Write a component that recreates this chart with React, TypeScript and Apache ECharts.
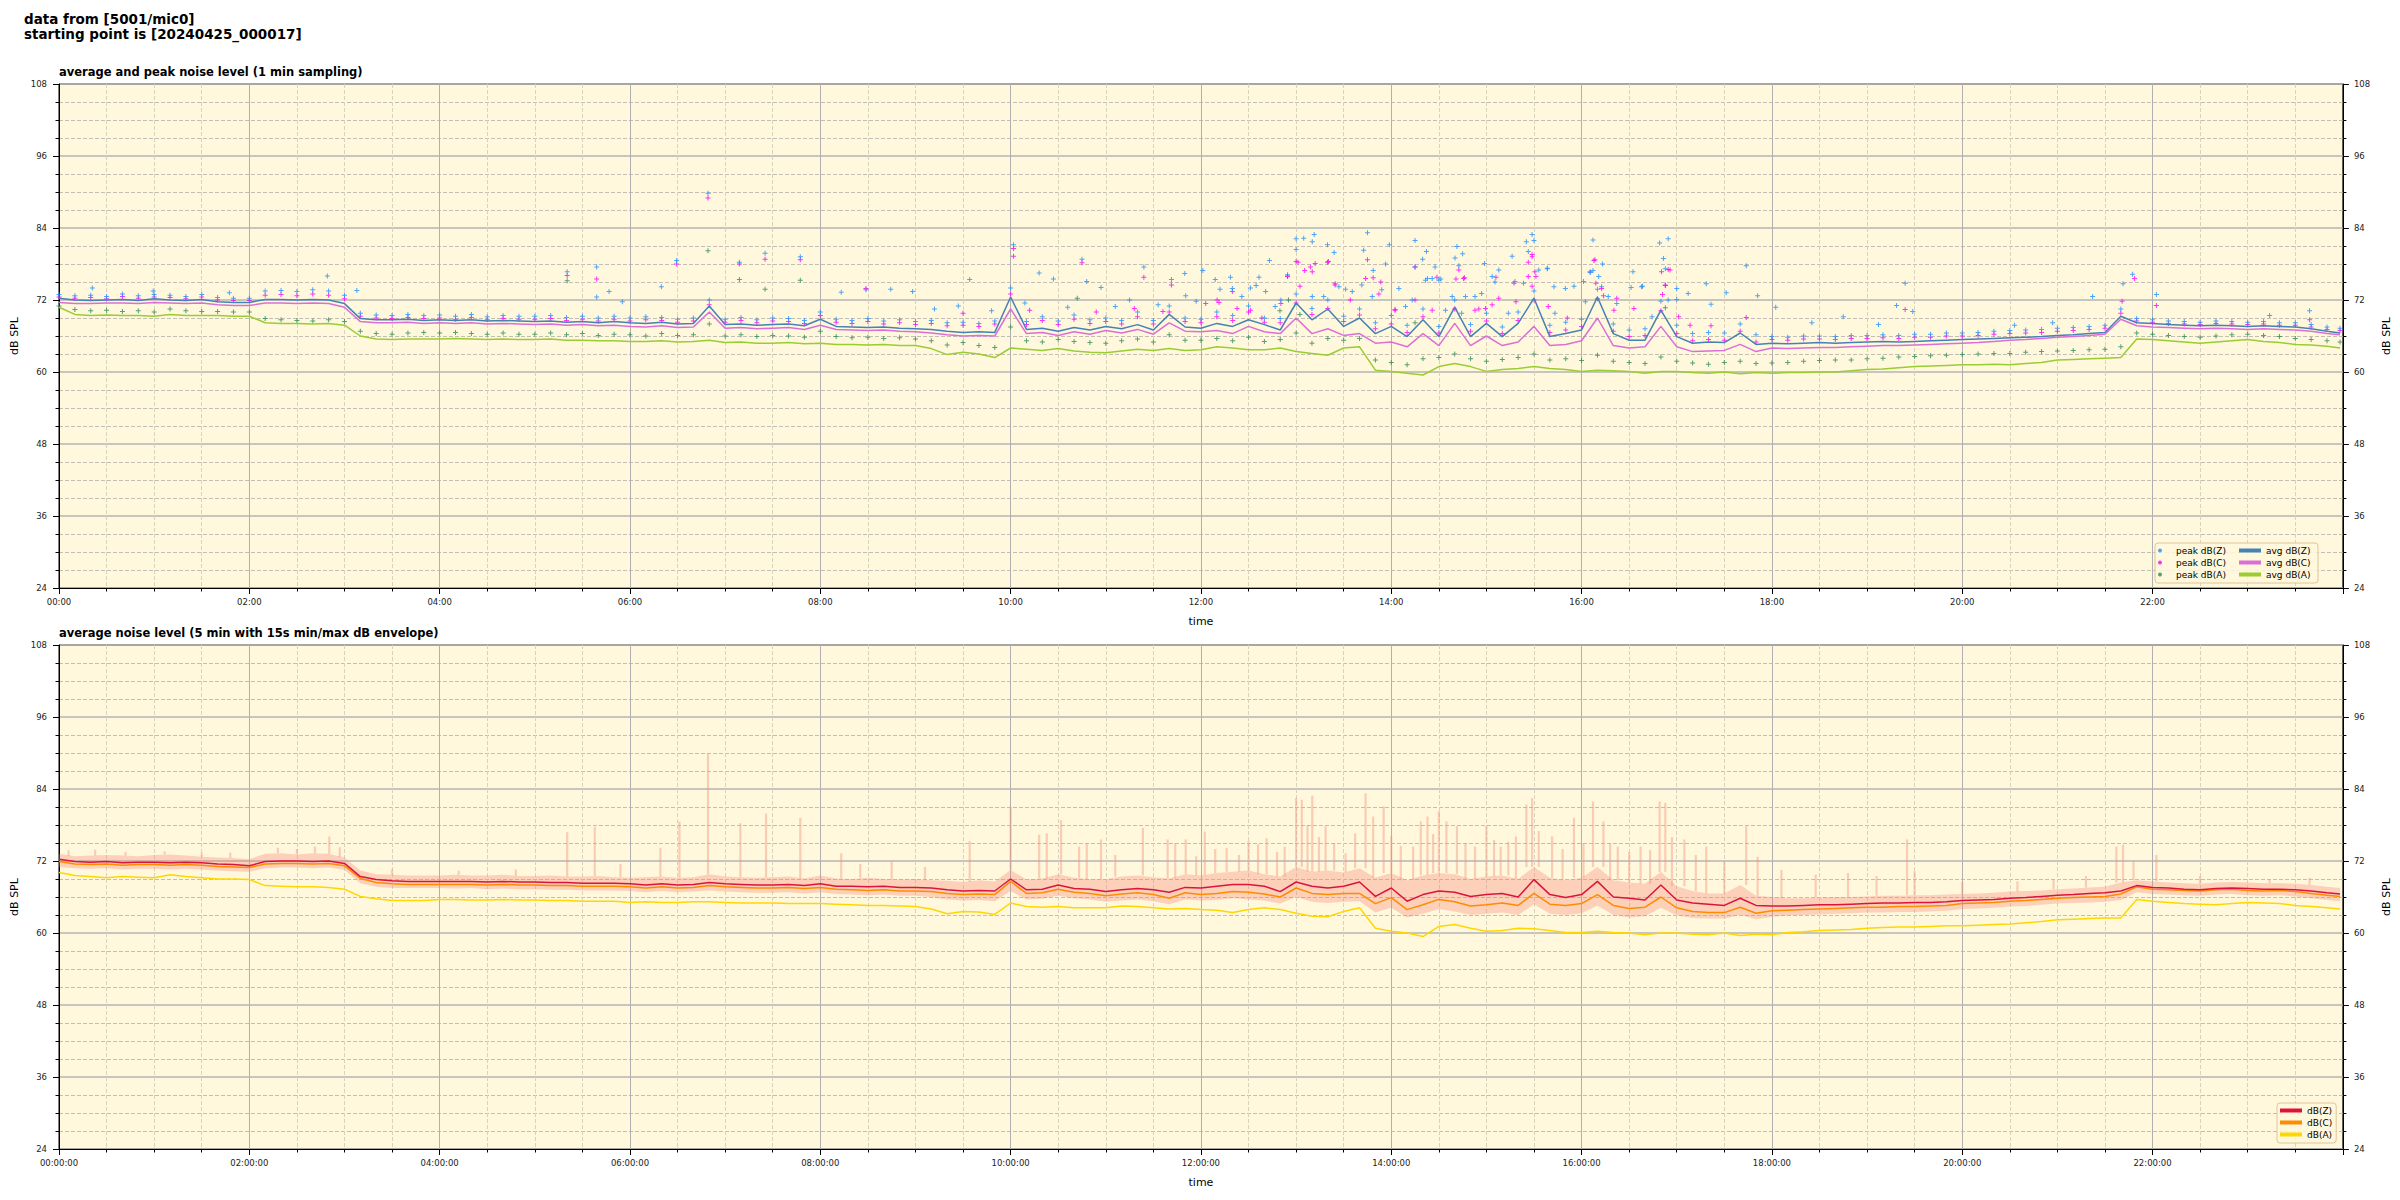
import { useEffect, useRef } from "react";
import * as echarts from "echarts";

// ---------- time base: 10-minute samples over the day (hours) ----------
const N = 145;
const HOURS = Array.from({ length: N }, (_, i) => Math.min(i / 6, 23.97));
const X_TICKS_TOP = (h: number) => `${String(h).padStart(2, "0")}:00`;
const X_TICKS_BOT = (h: number) => `${String(h).padStart(2, "0")}:00:00`;

// ---------- top plot: 1-min averages (read at 10-min steps) ----------
const avgZ = [
  72.3, 72.0, 71.9, 72.0, 72.1, 71.9,
  72.2, 72.0, 71.9, 72.1, 71.7, 71.6,
  71.6, 72.1, 72.1, 72.0, 72.1, 72.0,
  71.4, 68.9, 68.7, 68.7, 68.8, 68.6,
  68.7, 68.6, 68.7, 68.5, 68.6, 68.5,
  68.4, 68.5, 68.3, 68.4, 68.2, 68.4,
  68.2, 68.1, 68.3, 68.0, 68.1, 71.0,
  67.9, 68.0, 67.8, 67.9, 68.0, 67.7,
  68.8, 67.6, 67.5, 67.4, 67.5, 67.3,
  67.2, 67.1, 66.8, 66.6, 66.7, 66.6,
  72.5, 67.1, 67.3, 66.8, 67.4, 67.0,
  67.6, 67.2, 67.9, 67.0, 69.6, 67.5,
  67.3, 68.1, 67.6, 68.7, 67.9, 67.0,
  71.5, 68.7, 70.5, 67.6, 69.0, 66.4,
  67.6, 65.9, 68.7, 65.9, 70.8, 65.9,
  68.1, 65.9, 68.1, 72.3, 65.9, 66.4,
  67.0, 72.5, 66.4, 65.3, 65.3, 70.3,
  65.9, 64.8, 65.0, 64.9, 66.5, 64.6,
  64.8, 64.7, 64.8, 64.9, 64.8, 64.9,
  65.0, 65.1, 65.0, 65.1, 65.2, 65.3,
  65.4, 65.5, 65.6, 65.7, 65.8, 65.9,
  66.1, 66.2, 66.4, 66.6, 69.3, 68.2,
  68.1, 67.9, 67.8, 67.7, 67.8, 67.7,
  67.6, 67.7, 67.6, 67.5, 67.2, 66.8,
  66.5,
];
const avgC = [
  71.6, 71.4, 71.4, 71.5, 71.5, 71.4,
  71.6, 71.5, 71.4, 71.5, 71.2, 71.1,
  71.1, 71.5, 71.5, 71.4, 71.5, 71.4,
  70.8, 68.4, 68.2, 68.2, 68.3, 68.1,
  68.2, 68.1, 68.2, 68.0, 68.1, 68.0,
  67.9, 68.0, 67.8, 67.9, 67.7, 67.8,
  67.6, 67.5, 67.7, 67.4, 67.5, 70.0,
  67.3, 67.4, 67.2, 67.3, 67.4, 67.1,
  67.8, 67.1, 67.0, 66.9, 67.0, 66.8,
  66.7, 66.5, 66.2, 66.0, 66.1, 66.0,
  70.5, 66.4, 66.6, 66.1, 66.7, 66.3,
  66.9, 66.5, 67.1, 66.3, 68.2, 66.8,
  66.7, 66.9, 66.4, 67.6, 66.7, 66.4,
  69.0, 66.4, 67.2, 66.1, 66.4, 64.8,
  65.0, 64.2, 66.4, 64.4, 68.1, 64.4,
  66.0, 64.4, 65.0, 67.6, 64.4, 64.6,
  65.2, 69.0, 64.4, 64.0, 64.2, 67.6,
  64.2, 63.4, 63.5, 63.6, 64.6, 63.4,
  64.0, 63.9, 64.0, 64.1, 64.1, 64.2,
  64.3, 64.4, 64.4, 64.5, 64.6, 64.7,
  64.8, 64.9, 65.1, 65.3, 65.4, 65.6,
  65.8, 65.9, 66.1, 66.3, 68.8, 67.7,
  67.5, 67.4, 67.3, 67.2, 67.3, 67.2,
  67.1, 67.2, 67.1, 67.0, 66.8, 66.4,
  66.2,
];
const avgA = [
  70.8, 69.6, 69.4, 69.5, 69.4, 69.4,
  69.3, 69.6, 69.4, 69.4, 69.4, 69.3,
  69.3, 68.2, 68.1, 68.1, 68.0, 68.1,
  67.8, 66.0, 65.5, 65.4, 65.5, 65.5,
  65.5, 65.6, 65.5, 65.4, 65.5, 65.4,
  65.4, 65.5, 65.3, 65.3, 65.2, 65.2,
  65.1, 65.1, 65.2, 65.0, 65.1, 65.3,
  64.9, 65.0, 64.8, 64.8, 64.9, 64.7,
  64.8, 64.6, 64.6, 64.5, 64.6, 64.4,
  64.4, 63.9, 62.9, 63.3, 63.0, 62.4,
  64.0, 63.8, 63.6, 63.9, 63.5, 63.3,
  63.2, 63.5, 63.8, 63.6, 63.9, 63.6,
  63.7, 64.2, 64.0, 63.7, 63.7, 64.0,
  63.4, 63.1, 62.8, 64.0, 64.2, 60.3,
  60.1, 59.8, 59.5, 60.9, 61.4, 60.9,
  60.1, 60.4, 60.6, 60.9, 60.6, 60.4,
  60.1, 60.3, 60.2, 60.1, 59.8, 60.1,
  60.1, 59.9, 59.8, 60.0, 59.7, 59.9,
  59.8, 59.9, 59.9, 60.0, 60.0, 60.2,
  60.4, 60.5, 60.7, 60.9, 61.0, 61.1,
  61.2, 61.2, 61.3, 61.2, 61.4, 61.6,
  62.0, 62.1, 62.2, 62.3, 62.4, 65.5,
  65.4, 65.2, 65.0, 64.8, 65.0, 65.2,
  65.4, 65.1, 64.9, 64.6, 64.5, 64.3,
  64.0,
];

// ---------- top plot: 1-min peaks (band level at 10-min steps + scattered outliers) ----------
const peakZ = [
  72.9, 72.7, 72.8, 72.6, 73.0, 72.7,
  72.9, 72.8, 72.6, 72.9, 72.4, 72.3,
  72.3, 73.5, 73.6, 73.4, 73.7, 73.5,
  72.8, 69.8, 69.5, 69.4, 69.6, 69.4,
  69.5, 69.3, 69.6, 69.2, 69.4, 69.3,
  69.3, 69.4, 69.1, 69.3, 69.0, 69.3,
  69.0, 69.2, 69.1, 68.8, 69.0, 72.0,
  68.8, 69.1, 68.7, 69.0, 68.9, 68.6,
  70.0, 68.8, 68.6, 68.9, 68.5, 68.7,
  68.4, 68.6, 68.2, 68.3, 68.1, 68.5,
  74.0, 68.4, 69.2, 68.5, 69.5, 68.7,
  69.0, 68.6, 70.0, 68.6, 71.0, 69.0,
  68.8, 70.0, 69.4, 71.0, 69.0, 68.9,
  73.0, 70.6, 72.0, 69.3, 70.5, 68.2,
  69.4, 67.8, 70.5, 67.6, 72.0, 67.9,
  69.8, 67.5, 70.0, 73.5, 67.8, 68.3,
  68.8, 73.8, 68.0, 67.0, 67.2, 71.8,
  67.8, 66.4, 66.6, 66.5, 68.0, 66.2,
  65.9, 65.8, 66.0, 66.0, 65.9, 66.1,
  66.1, 66.2, 66.1, 66.3, 66.3, 66.5,
  66.5, 66.6, 66.8, 66.9, 67.0, 67.1,
  67.3, 67.4, 67.6, 67.8, 70.5, 68.9,
  68.7, 68.5, 68.4, 68.3, 68.5, 68.4,
  68.3, 68.4, 68.2, 68.2, 67.9, 67.5,
  67.3,
];
const peakC = [
  72.5, 72.3, 72.4, 72.2, 72.6, 72.3,
  72.5, 72.4, 72.2, 72.5, 72.0, 71.9,
  71.9, 72.8, 72.9, 72.7, 73.0, 72.8,
  72.2, 69.3, 69.0, 68.9, 69.1, 68.9,
  69.0, 68.8, 69.1, 68.7, 68.9, 68.8,
  68.8, 68.9, 68.6, 68.8, 68.5, 68.8,
  68.5, 68.7, 68.6, 68.3, 68.5, 71.2,
  68.3, 68.6, 68.2, 68.5, 68.4, 68.1,
  69.4, 68.3, 68.1, 68.4, 68.0, 68.2,
  67.9, 68.1, 67.7, 67.8, 67.6, 68.0,
  73.0, 67.9, 68.6, 67.9, 68.8, 68.1,
  68.4, 68.0, 69.2, 68.0, 70.0, 68.4,
  68.2, 69.2, 68.6, 70.0, 68.3, 68.2,
  71.5, 69.6, 70.6, 68.4, 69.5, 67.2,
  68.0, 66.6, 69.2, 66.5, 70.5, 66.8,
  68.5, 66.4, 68.6, 72.0, 66.6, 67.0,
  67.6, 72.2, 66.8, 65.9, 66.1, 70.2,
  66.4, 65.2, 65.4, 65.3, 66.8, 65.0,
  65.4, 65.3, 65.5, 65.5, 65.4, 65.6,
  65.6, 65.7, 65.6, 65.8, 65.8, 66.0,
  66.0, 66.1, 66.3, 66.4, 66.5, 66.6,
  66.8, 66.9, 67.1, 67.3, 69.8, 68.5,
  68.3, 68.1, 68.0, 67.9, 68.1, 68.0,
  67.9, 68.0, 67.8, 67.8, 67.5, 67.1,
  66.9,
];
const peakA = [
  71.0, 70.4, 70.2, 70.3, 70.1, 70.2,
  70.0, 70.5, 70.2, 70.1, 70.1, 70.0,
  70.0, 68.9, 68.7, 68.6, 68.5, 68.7,
  68.4, 66.8, 66.4, 66.3, 66.5, 66.6,
  66.5, 66.6, 66.4, 66.3, 66.5, 66.3,
  66.3, 66.5, 66.2, 66.4, 66.1, 66.3,
  66.2, 66.0, 66.4, 66.1, 66.2, 68.0,
  66.0, 66.2, 65.9, 66.1, 66.0, 65.8,
  66.8, 65.9, 65.7, 65.8, 65.6, 65.7,
  65.5, 65.2, 64.5, 64.9, 64.4, 64.1,
  67.5, 65.2, 65.0, 65.4, 65.1, 64.9,
  64.8, 65.2, 65.5, 65.0, 66.2, 65.3,
  65.3, 65.6, 65.2, 65.8, 65.1, 65.4,
  66.5, 64.8, 65.6, 65.3, 65.6, 62.0,
  61.6, 61.2, 62.2, 62.4, 63.0, 62.2,
  61.8, 62.1, 62.4, 63.0, 62.0, 62.2,
  61.9, 62.8, 61.8, 61.6, 61.4, 62.5,
  61.8, 61.5, 61.3, 61.6, 61.8, 61.4,
  61.5, 61.6, 61.8, 61.9, 62.0, 62.0,
  62.2, 62.3, 62.5, 62.6, 62.7, 62.8,
  62.9, 63.0, 63.1, 63.1, 63.3, 63.4,
  63.5, 63.6, 63.7, 63.8, 64.2, 66.5,
  66.3, 66.1, 65.9, 65.8, 66.0, 66.2,
  66.3, 66.1, 65.9, 65.6, 65.4, 65.2,
  65.0,
];
// [hour, dB]
const peakZOut: [number, number][] = [
  [0.35, 74.0], [0.99, 73.5], [1.79, 73.2], [2.82, 76.0], [3.13, 73.6], [5.34, 76.7], [5.65, 77.5], [5.65, 72.5],
  [5.78, 73.4], [5.92, 71.7], [6.33, 74.2], [6.49, 78.6], [6.82, 89.8], [7.15, 78.3], [7.42, 79.8], [7.79, 79.2],
  [8.22, 73.3], [8.48, 73.7], [8.74, 73.8], [8.97, 73.4], [9.2, 70.5], [9.45, 71.0], [9.57, 75.4], [9.8, 70.2],
  [10.03, 81.2], [10.15, 71.5], [10.3, 76.5], [10.45, 75.5], [10.6, 70.8], [10.75, 78.8], [10.8, 75.1], [10.95, 74.1],
  [11.1, 70.9], [11.25, 72.0], [11.4, 77.5], [11.55, 71.2], [11.69, 75.4], [11.83, 76.4], [11.84, 72.7], [11.95, 71.8],
  [12.02, 76.9], [12.15, 75.4], [12.2, 73.8], [12.31, 75.8], [12.33, 73.9], [12.43, 72.6], [12.52, 74.0], [12.58, 74.4],
  [12.61, 75.8], [12.68, 73.4], [12.72, 78.6], [12.78, 70.9], [12.84, 72.0], [12.91, 76.2], [13.0, 82.2], [13.0, 80.4],
  [13.08, 82.3], [13.17, 81.7], [13.17, 72.6], [13.19, 82.9], [13.29, 72.6], [13.33, 81.2], [13.4, 79.9], [13.45, 74.2],
  [13.52, 73.8], [13.59, 73.4], [13.69, 74.5], [13.71, 80.3], [13.75, 83.2], [13.8, 72.6], [13.81, 76.9], [13.9, 73.7],
  [13.94, 78.0], [13.98, 81.2], [14.08, 73.9], [14.15, 70.9], [14.22, 72.0], [14.25, 81.9], [14.25, 77.5], [14.33, 78.8],
  [14.36, 75.3], [14.37, 80.1], [14.38, 75.6], [14.43, 75.6], [14.46, 77.5], [14.5, 75.3], [14.52, 75.5], [14.57, 70.3],
  [14.64, 72.6], [14.67, 79.0], [14.69, 80.9], [14.71, 77.7], [14.74, 69.8], [14.75, 79.7], [14.78, 72.6], [14.88, 72.6],
  [14.95, 73.1], [14.98, 78.1], [15.06, 75.9], [15.09, 75.0], [15.13, 77.0], [15.23, 69.8], [15.27, 79.3], [15.3, 75.1],
  [15.39, 74.8], [15.42, 81.7], [15.44, 80.1], [15.48, 82.9], [15.5, 81.9], [15.55, 77.0], [15.64, 77.2], [15.64, 77.3],
  [15.71, 74.2], [15.72, 69.8], [15.83, 73.9], [15.92, 74.3], [16.02, 75.1], [16.04, 71.7], [16.09, 76.6], [16.12, 82.0],
  [16.12, 76.9], [16.18, 75.9], [16.21, 74.2], [16.22, 78.0], [16.28, 72.6], [16.37, 71.4], [16.52, 74.1], [16.54, 76.7],
  [16.63, 74.2], [16.64, 74.3], [16.74, 69.2], [16.82, 81.5], [16.86, 78.9], [16.88, 77.2], [16.91, 82.2], [16.91, 72.0],
  [17.0, 72.1], [17.0, 73.9], [17.12, 73.1], [17.31, 74.7], [17.36, 71.3], [17.52, 73.2], [17.73, 77.7], [17.85, 72.7],
  [18.04, 70.8], [18.42, 68.2], [18.75, 69.2], [19.12, 67.9], [19.31, 71.1], [19.4, 74.8], [19.48, 70.1], [20.55, 67.8],
  [20.95, 68.2], [21.37, 72.6], [21.69, 74.7], [21.79, 76.3], [22.04, 72.9], [23.23, 69.4], [23.65, 70.2],
];
const peakCOut: [number, number][] = [
  [5.34, 76.1], [5.65, 75.5], [6.49, 78.0], [6.82, 89.0], [7.15, 78.0], [7.42, 78.8], [7.79, 78.7], [8.48, 73.9],
  [9.5, 69.8], [10.03, 80.6], [10.03, 79.3], [10.2, 70.3], [10.75, 78.2], [10.9, 70.0], [11.3, 70.6], [11.4, 75.8],
  [11.6, 70.1], [11.69, 74.5], [12.05, 71.4], [12.17, 72.0], [12.19, 71.6], [12.33, 73.4], [12.38, 70.6], [12.52, 70.3],
  [12.64, 69.0], [12.84, 71.4], [12.91, 75.9], [12.91, 76.0], [13.0, 78.4], [13.02, 78.3], [13.04, 74.3], [13.09, 76.9],
  [13.15, 77.5], [13.17, 76.7], [13.2, 78.1], [13.33, 78.3], [13.34, 78.4], [13.41, 74.7], [13.41, 74.5], [13.57, 72.0],
  [13.73, 75.6], [13.75, 78.7], [13.81, 75.7], [13.87, 73.0], [13.89, 75.0], [14.04, 70.4], [14.04, 70.3], [14.25, 77.5],
  [14.25, 72.0], [14.43, 70.3], [14.48, 75.8], [14.68, 75.5], [14.71, 77.0], [14.76, 75.6], [14.77, 75.7], [14.88, 70.3],
  [14.92, 70.5], [14.99, 70.6], [15.06, 71.2], [15.1, 75.8], [15.13, 72.3], [15.29, 74.8], [15.31, 71.7], [15.44, 78.3],
  [15.44, 75.9], [15.48, 79.6], [15.48, 74.3], [15.48, 79.2], [15.51, 76.7], [15.52, 75.9], [15.65, 70.9], [15.85, 69.0],
  [16.09, 76.7], [16.13, 78.6], [16.14, 78.7], [16.15, 74.8], [16.21, 73.9], [16.23, 72.7], [16.34, 70.3], [16.37, 72.3],
  [16.55, 70.6], [16.84, 76.7], [16.85, 72.9], [16.88, 74.4], [16.88, 74.5], [16.91, 77.1], [16.93, 77.0], [17.02, 69.2],
  [17.14, 67.8], [17.36, 67.7], [17.73, 69.1], [19.4, 70.4], [21.68, 71.8], [21.81, 75.6], [22.04, 71.1], [23.65, 68.7],
];
const peakAOut: [number, number][] = [
  [5.34, 75.2], [6.82, 80.2], [7.15, 75.4], [7.42, 73.8], [7.79, 75.3], [10.7, 72.3], [12.83, 70.2], [12.92, 72.0],
  [13.04, 69.6], [14.25, 68.2], [16.88, 70.7],
];

// ---------- bottom plot: 5-min averages (read at 10-min steps) ----------
const dbZ = [
  72.3, 71.9, 71.8, 71.9, 71.7, 71.8,
  71.8, 71.7, 71.8, 71.7, 71.5, 71.4,
  71.2, 71.9, 72.0, 72.0, 71.9, 72.0,
  71.6, 69.4, 68.9, 68.7, 68.6, 68.6,
  68.6, 68.6, 68.6, 68.5, 68.6, 68.5,
  68.5, 68.4, 68.4, 68.3, 68.3, 68.3,
  68.2, 68.0, 68.2, 68.0, 68.1, 68.4,
  68.2, 68.1, 68.0, 68.0, 68.1, 67.9,
  68.2, 67.8, 67.8, 67.7, 67.8, 67.6,
  67.6, 67.5, 67.2, 67.0, 67.1, 67.0,
  69.0, 67.2, 67.3, 68.0, 67.4, 67.3,
  66.9, 67.2, 67.4, 67.2, 66.8, 67.6,
  67.5, 67.8, 68.1, 68.1, 67.8, 66.9,
  68.5, 67.8, 67.5, 67.8, 68.5, 66.1,
  67.5, 65.3, 66.4, 67.0, 66.8, 66.1,
  66.4, 66.6, 66.0, 68.9, 66.4, 65.9,
  66.4, 68.6, 66.0, 65.8, 65.5, 68.0,
  65.5, 65.0, 64.8, 64.6, 65.8, 64.6,
  64.5, 64.5, 64.6, 64.7, 64.7, 64.8,
  64.9, 65.0, 65.0, 65.1, 65.1, 65.2,
  65.4, 65.5, 65.6, 65.8, 65.9, 66.1,
  66.3, 66.4, 66.6, 66.7, 67.0, 67.9,
  67.6, 67.5, 67.3, 67.2, 67.4, 67.5,
  67.4, 67.3, 67.3, 67.2, 67.0, 66.7,
  66.5,
];
const dbC = [
  71.9, 71.5, 71.4, 71.5, 71.3, 71.4,
  71.4, 71.3, 71.4, 71.3, 71.1, 71.0,
  70.9, 71.5, 71.6, 71.6, 71.5, 71.6,
  71.2, 69.1, 68.4, 68.2, 68.1, 68.1,
  68.1, 68.1, 68.1, 68.0, 68.1, 68.0,
  68.0, 67.9, 67.9, 67.8, 67.8, 67.8,
  67.7, 67.5, 67.7, 67.5, 67.6, 67.9,
  67.7, 67.6, 67.5, 67.5, 67.6, 67.4,
  67.6, 67.3, 67.2, 67.1, 67.2, 67.0,
  67.0, 66.9, 66.6, 66.4, 66.5, 66.4,
  68.6, 66.6, 66.7, 67.3, 66.8, 66.6,
  66.2, 66.5, 66.7, 66.4, 65.8, 66.7,
  66.4, 66.6, 66.9, 66.8, 66.5, 66.0,
  67.5, 66.6, 66.4, 66.6, 66.6, 64.9,
  65.9, 63.9, 64.7, 65.6, 65.2, 64.5,
  64.7, 65.0, 64.6, 66.6, 64.8, 64.6,
  64.9, 66.4, 64.6, 64.1, 64.3, 66.0,
  64.2, 63.6, 63.4, 63.4, 64.3, 63.3,
  63.7, 63.8, 63.9, 64.0, 64.1, 64.2,
  64.3, 64.3, 64.4, 64.4, 64.5, 64.6,
  64.9, 65.0, 65.1, 65.3, 65.4, 65.6,
  65.8, 65.9, 66.0, 66.1, 66.5, 67.7,
  67.3, 67.2, 67.1, 67.0, 67.2, 67.3,
  67.1, 67.0, 67.1, 66.9, 66.6, 66.3,
  66.1,
];
const dbA = [
  70.1, 69.6, 69.4, 69.2, 69.4, 69.3,
  69.2, 69.7, 69.4, 69.2, 69.0, 69.0,
  68.9, 67.9, 67.8, 67.7, 67.7, 67.6,
  67.3, 66.1, 65.7, 65.4, 65.4, 65.4,
  65.6, 65.6, 65.5, 65.5, 65.6, 65.5,
  65.5, 65.4, 65.4, 65.3, 65.3, 65.3,
  65.1, 65.2, 65.1, 65.1, 65.2, 65.2,
  65.1, 65.0, 65.0, 65.0, 64.9, 64.9,
  64.9, 64.8, 64.7, 64.6, 64.6, 64.5,
  64.4, 64.0, 63.2, 63.6, 63.5, 63.1,
  65.0, 64.4, 64.3, 64.4, 64.2, 64.2,
  64.2, 64.5, 64.4, 64.2, 64.0, 64.1,
  63.9, 63.8, 63.4, 63.9, 64.2, 63.9,
  63.3, 62.8, 62.7, 63.6, 64.2, 60.8,
  60.3, 60.0, 59.4, 61.1, 61.4, 60.8,
  60.3, 60.4, 60.8, 60.7, 60.4, 60.1,
  60.1, 60.3, 60.1, 60.0, 59.7, 60.0,
  60.0, 59.8, 59.7, 60.0, 59.6, 59.8,
  59.7, 60.1, 60.2, 60.4, 60.5, 60.6,
  60.8, 60.9, 61.0, 61.0, 61.1, 61.2,
  61.2, 61.3, 61.4, 61.5, 61.7, 61.9,
  62.2, 62.3, 62.4, 62.5, 62.5, 65.6,
  65.3, 65.1, 64.9, 64.8, 64.7, 64.9,
  65.1, 65.0, 64.9, 64.6, 64.4, 64.2,
  64.0,
];
// 15 s min/max envelope: base band + tall max spikes [hour, dB]
const envLow = [
  71.0, 70.8, 70.7, 70.8, 70.6, 70.7,
  70.7, 70.6, 70.7, 70.6, 70.4, 70.3,
  70.2, 70.8, 70.9, 70.9, 70.8, 70.9,
  70.5, 68.3, 67.7, 67.5, 67.5, 67.5,
  67.5, 67.4, 67.5, 67.3, 67.4, 67.3,
  67.3, 67.2, 67.2, 67.1, 67.1, 67.1,
  67.0, 66.8, 67.0, 66.8, 66.9, 67.1,
  66.9, 66.8, 66.7, 66.7, 66.8, 66.6,
  66.8, 66.5, 66.4, 66.3, 66.4, 66.2,
  66.2, 66.0, 65.6, 65.4, 65.5, 65.3,
  67.0, 65.6, 65.7, 66.2, 65.8, 65.6,
  65.2, 65.4, 65.6, 65.3, 64.8, 65.6,
  65.4, 65.5, 65.8, 65.6, 65.4, 64.9,
  66.0, 65.2, 65.0, 65.2, 65.3, 63.4,
  64.2, 62.6, 63.2, 64.0, 63.6, 63.0,
  63.2, 63.4, 63.0, 64.8, 63.2, 63.0,
  63.3, 64.6, 63.0, 62.6, 62.8, 64.2,
  62.9, 62.5, 62.4, 62.4, 63.0, 62.3,
  62.7, 62.9, 63.0, 63.1, 63.2, 63.3,
  63.4, 63.4, 63.5, 63.5, 63.6, 63.7,
  64.0, 64.1, 64.2, 64.4, 64.5, 64.7,
  64.9, 65.0, 65.1, 65.2, 65.5, 66.8,
  66.5, 66.4, 66.3, 66.2, 66.4, 66.5,
  66.3, 66.2, 66.3, 66.1, 65.8, 65.5,
  65.3,
];
const envHigh = [
  73.2, 72.8, 72.9, 73.0, 72.9, 72.8,
  73.0, 73.1, 72.9, 72.7, 72.6, 72.5,
  72.3, 73.2, 73.3, 73.1, 73.3, 73.2,
  72.6, 70.4, 69.8, 69.7, 69.6, 69.6,
  69.6, 69.7, 69.6, 69.6, 69.7, 69.5,
  69.5, 69.6, 69.4, 69.4, 69.5, 69.3,
  69.2, 69.3, 69.4, 69.2, 69.3, 69.8,
  69.4, 69.3, 69.2, 69.3, 69.4, 69.1,
  69.6, 69.1, 69.0, 69.2, 69.0, 68.9,
  69.0, 68.8, 68.7, 68.5, 68.8, 68.6,
  70.5, 68.9, 69.1, 69.8, 69.2, 69.0,
  69.0, 69.4, 69.6, 69.3, 69.1, 69.8,
  69.6, 70.0, 70.2, 70.4, 69.8, 69.4,
  71.0, 70.2, 70.4, 70.1, 70.8, 69.2,
  70.0, 68.8, 69.6, 70.0, 69.8, 69.0,
  69.4, 69.6, 69.0, 71.0, 69.2, 68.8,
  69.2, 71.0, 68.8, 68.4, 68.2, 70.2,
  67.8, 67.0, 66.6, 66.6, 68.0, 66.2,
  66.0, 65.8, 65.8, 65.9, 66.0, 66.0,
  66.1, 66.2, 66.2, 66.3, 66.3, 66.4,
  66.5, 66.6, 66.7, 66.9, 67.0, 67.1,
  67.3, 67.4, 67.6, 67.7, 68.4, 68.8,
  68.6, 68.4, 68.3, 68.2, 68.4, 68.5,
  68.4, 68.3, 68.3, 68.2, 68.0, 67.7,
  67.5,
];
const envSpikes: [number, number][] = [
  [0.1, 73.8], [0.38, 73.9], [0.7, 73.5], [1.11, 73.6], [1.5, 73.4], [1.8, 73.4], [2.3, 74.2], [2.5, 74.0],
  [2.69, 74.4], [2.84, 76.1], [2.95, 74.3], [3.5, 70.6], [4.2, 70.4], [4.8, 70.6], [5.34, 76.8], [5.63, 77.7],
  [5.9, 71.5], [6.32, 74.2], [6.52, 78.6], [6.82, 89.9], [7.16, 78.3], [7.43, 79.9], [7.79, 79.2], [8.22, 73.3],
  [8.42, 71.5], [8.75, 72.0], [9.1, 71.0], [9.57, 75.3], [10.0, 81.1], [10.3, 76.4], [10.38, 76.6], [10.53, 78.8],
  [10.72, 74.4], [10.8, 75.0], [10.95, 75.6], [11.1, 73.0], [11.39, 77.5], [11.65, 75.6], [11.73, 75.0], [11.84, 75.6],
  [11.95, 72.8], [12.04, 76.9], [12.15, 74.0], [12.27, 74.2], [12.4, 73.0], [12.5, 75.3], [12.6, 74.8], [12.69, 75.8],
  [12.8, 73.5], [12.88, 74.4], [13.0, 82.5], [13.06, 82.2], [13.12, 78.0], [13.17, 82.9], [13.24, 76.0], [13.31, 77.8],
  [13.4, 75.0], [13.52, 73.3], [13.62, 76.6], [13.73, 83.3], [13.81, 79.4], [13.92, 81.1], [14.0, 76.1], [14.1, 74.5],
  [14.23, 74.4], [14.31, 78.6], [14.38, 79.4], [14.44, 76.5], [14.5, 80.3], [14.58, 78.6], [14.69, 77.8], [14.78, 75.0],
  [14.88, 74.4], [15.0, 77.8], [15.08, 75.5], [15.15, 74.4], [15.23, 75.2], [15.31, 76.1], [15.42, 81.4], [15.48, 82.5],
  [15.55, 77.0], [15.69, 76.1], [15.8, 74.0], [15.92, 79.2], [16.02, 75.0], [16.12, 81.9], [16.23, 78.6], [16.3, 75.0],
  [16.38, 74.4], [16.5, 73.5], [16.62, 74.4], [16.72, 73.8], [16.82, 81.9], [16.88, 81.7], [16.95, 76.0], [17.08, 75.6],
  [17.2, 73.0], [17.31, 74.4], [17.5, 72.0], [17.73, 77.8], [17.85, 72.7], [18.1, 70.5], [18.46, 69.7], [18.8, 70.0],
  [19.1, 69.5], [19.42, 75.6], [19.5, 70.3], [20.0, 68.5], [20.58, 68.6], [20.96, 68.9], [21.3, 69.5], [21.62, 74.4],
  [21.69, 74.7], [21.8, 72.0], [22.04, 73.0], [22.5, 69.5], [23.23, 68.9], [23.65, 69.2],
];

// ---------- chart ----------
const FONT = "DejaVu Sans";
const PLUS = "path://M0 2H5V3H0Z M2 0H3V5H2Z";
const BG = "#fff8dc";
const ENV_FILL = "rgba(250,128,114,0.33)";

const pairs = (arr: number[]) => arr.map((v, i) => [HOURS[i], v]);

function xAxis(grid: number, fmt: (h: number) => string) {
  return {
    type: "value", gridIndex: grid, min: 0, max: 24, interval: 2,
    name: "time", nameLocation: "middle", nameGap: 28,
    nameTextStyle: { fontSize: 11, color: "#000", fontFamily: FONT },
    axisLine: { show: true, onZero: false, lineStyle: { color: "#000", width: 1 } },
    axisTick: { show: true, length: 6, lineStyle: { color: "#000" } },
    minorTick: { show: true, splitNumber: 4, length: 3.5, lineStyle: { color: "#000" } },
    axisLabel: { fontSize: 8.5, color: "#222", margin: 9, showMaxLabel: false, fontFamily: FONT, formatter: fmt },
    splitLine: { show: true, lineStyle: { color: "#b0b0b0", width: 1 } },
    minorSplitLine: { show: true, lineStyle: { color: "#d9d2bd", type: "dashed", width: 1 } },
  };
}
function yAxis(grid: number, pos: "left" | "right") {
  const left = pos === "left";
  return {
    type: "value", gridIndex: grid, position: pos, min: 24, max: 108, interval: 12,
    name: "dB SPL", nameLocation: "middle", nameGap: left ? 34 : 31, nameRotate: 90,
    nameTextStyle: { fontSize: 11, color: "#000", fontFamily: FONT },
    axisLine: { show: true, onZero: false, lineStyle: { color: "#000", width: 1 } },
    axisTick: { show: true, length: 6, lineStyle: { color: "#000" } },
    minorTick: { show: true, splitNumber: 4, length: 3.5, lineStyle: { color: "#000" } },
    axisLabel: { fontSize: 8.5, color: "#222", margin: left ? 12 : 11, fontFamily: FONT },
    splitLine: { show: left, lineStyle: { color: "#b4b4b4", width: 1.5 } },
    minorSplitLine: { show: left, lineStyle: { color: "#c2beb4", type: "dashed", width: 1 } },
  };
}

function buildOption() {
  const baseAt = (t: number) => envHigh[Math.max(0, Math.min(N - 1, Math.round(t * 6)))];
  const scatter = (name: string, color: string, base: number[], out: [number, number][]) => ({
    type: "scatter", name, xAxisIndex: 0, yAxisIndex: 0, silent: true, z: 2,
    symbol: PLUS, symbolSize: 5,
    itemStyle: { color, opacity: 0.8 },
    data: [...pairs(base), ...out],
  });
  const line = (name: string, color: string, data: number[], xi: number, yi: number, z: number) => ({
    type: "line", name, xAxisIndex: xi, yAxisIndex: yi, silent: true, z,
    symbol: "none", showSymbol: false,
    lineStyle: { color, width: 1.5 }, itemStyle: { color },
    data: pairs(data),
  });
  const legendBox = {
    orient: "vertical", itemGap: 1, itemWidth: 22, itemHeight: 4, selectedMode: false,
    backgroundColor: "rgba(255,248,220,0.85)", borderColor: "#e0c49a", borderWidth: 1, borderRadius: 3,
    textStyle: { fontSize: 9, color: "#000", fontFamily: FONT, lineHeight: 11 },
  };
  return {
    animation: false,
    textStyle: { fontFamily: FONT },
    title: [
      {
        text: "data from [5001/mic0]\nstarting point is [20240425_000017]", left: 24, top: 11, padding: 0,
        textStyle: { fontSize: 13.5, fontWeight: "bold", color: "#000", lineHeight: 15, fontFamily: FONT },
      },
      {
        text: "average and peak noise level (1 min sampling)", left: 59, top: 65, padding: 0,
        textStyle: { fontSize: 11.5, fontWeight: "bold", color: "#000", lineHeight: 13, fontFamily: FONT },
      },
      {
        text: "average noise level (5 min with 15s min/max dB envelope)", left: 59, top: 626, padding: 0,
        textStyle: { fontSize: 11.5, fontWeight: "bold", color: "#000", lineHeight: 13, fontFamily: FONT },
      },
    ],
    grid: [
      { left: 59, top: 84, width: 2285, height: 504, show: true, backgroundColor: BG, borderColor: "#000", borderWidth: 1 },
      { left: 59, top: 645, width: 2285, height: 504, show: true, backgroundColor: BG, borderColor: "#000", borderWidth: 1 },
    ],
    xAxis: [xAxis(0, X_TICKS_TOP), xAxis(1, X_TICKS_BOT)],
    yAxis: [yAxis(0, "left"), yAxis(0, "right"), yAxis(1, "left"), yAxis(1, "right")],
    legend: [
      {
        ...legendBox, left: 2155, top: 543, height: 36, padding: [2, 4, 3, 3],
        data: [
          { name: "peak dB(Z)", icon: "circle", textStyle: { width: 71 } },
          { name: "peak dB(C)", icon: "circle", textStyle: { width: 71 } },
          { name: "peak dB(A)", icon: "circle", textStyle: { width: 71 } },
          { name: "avg dB(Z)", icon: "rect", textStyle: { width: 48 } },
          { name: "avg dB(C)", icon: "rect", textStyle: { width: 48 } },
          { name: "avg dB(A)", icon: "rect", textStyle: { width: 48 } },
        ],
      },
      {
        ...legendBox, left: 2277, top: 1103, padding: [2, 4, 3, 3],
        data: [
          { name: "dB(Z)", icon: "rect" },
          { name: "dB(C)", icon: "rect" },
          { name: "dB(A)", icon: "rect" },
        ],
      },
    ],
    series: [
      scatter("peak dB(A)", "#2e8b57", peakA, peakAOut),
      scatter("peak dB(C)", "#ff00ff", peakC, peakCOut),
      scatter("peak dB(Z)", "#1e90ff", peakZ, peakZOut),
      line("avg dB(A)", "#9acd32", avgA, 0, 0, 3),
      line("avg dB(C)", "#da70d6", avgC, 0, 0, 3),
      line("avg dB(Z)", "#4682b4", avgZ, 0, 0, 4),
      {
        type: "custom", name: "envBand", xAxisIndex: 1, yAxisIndex: 2, silent: true, z: 1,
        encode: { x: 0, y: 1 },
        data: [[HOURS[0], envLow[0]]],
        renderItem: (_p: any, api: any) => {
          const top = envHigh.map((v, i) => api.coord([HOURS[i], v]));
          const bot = envLow.map((v, i) => api.coord([HOURS[i], v])).reverse();
          return { type: "polygon", shape: { points: [...top, ...bot] }, style: { fill: ENV_FILL } };
        },
      },
      {
        type: "custom", name: "envSpikes", xAxisIndex: 1, yAxisIndex: 2, silent: true, z: 1,
        encode: { x: 0, y: 1 },
        data: envSpikes.map(([t, v]) => [t, v, baseAt(t)]),
        renderItem: (_p: any, api: any) => {
          const t = api.value(0), v = api.value(1), b = api.value(2);
          const a = api.coord([t, b]);
          const c = api.coord([t, v]);
          return {
            type: "line",
            shape: { x1: a[0], y1: a[1], x2: c[0], y2: c[1] },
            style: { stroke: "rgba(242,150,128,0.45)", lineWidth: 2.2 },
          };
        },
      },
      line("dB(A)", "#ffd700", dbA, 1, 2, 3),
      line("dB(C)", "#ff8c00", dbC, 1, 2, 3),
      line("dB(Z)", "#dc143c", dbZ, 1, 2, 4),
    ],
  };
}

export default function App() {
  const ref = useRef<HTMLDivElement>(null);
  useEffect(() => {
    document.body.style.margin = "0";
    if (!ref.current) return;
    const chart = echarts.init(ref.current, undefined, { renderer: "svg" });
    chart.setOption(buildOption() as any);
    return () => chart.dispose();
  }, []);
  return <div ref={ref} style={{ width: 2400, height: 1200, background: "#fff" }} />;
}
